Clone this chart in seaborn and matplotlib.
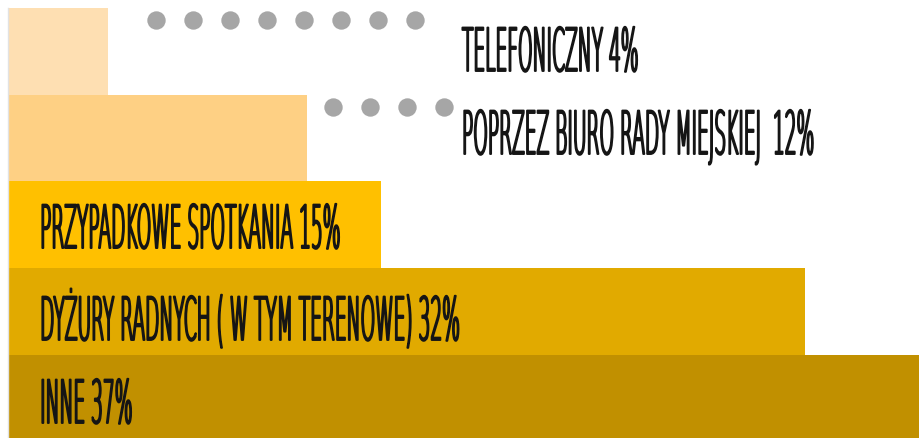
import matplotlib
matplotlib.use("Agg")
import matplotlib.pyplot as plt
import seaborn as sns
import pandas as pd
from matplotlib import patheffects
from matplotlib.transforms import Affine2D

# ---- data ----
categories = ["Telefoniczny", "poprzez biuro Rady miejskiej ", "przypadkowe spotkania",
              "dyżury radnych ( w tym terenowe)", "inne"]
values = [4, 12, 15, 32, 37]
colors = ["#FEDFB2", "#FED084", "#FFC000", "#E1AA00", "#C19000"]
dot_counts = [8, 4, 0, 0, 0]

# ---- layout / style ----
dot_start = [5.93, 13.07, 0, 0, 0]
dot_step = 1.486
label_x = [18.24, 18.24, 1.29, 1.29, 1.29]
label_base = [0.226, 0.183, 0.267, 0.327, 0.284]


class Stretch(patheffects.AbstractPathEffect):
    """Draw text glyphs stretched (tall condensed display look)."""

    def __init__(self, sx=1.0, sy=1.0, lw=0.0):
        super().__init__()
        self.sx, self.sy, self.lw = sx, sy, lw

    def draw_path(self, renderer, gc, tpath, affine, rgbFace=None):
        aff = Affine2D().scale(self.sx, self.sy) + affine
        gc0 = renderer.new_gc()
        gc0.copy_properties(gc)
        if self.lw > 0 and rgbFace is not None:
            gc0.set_linewidth(self.lw)
            gc0.set_foreground(rgbFace)
            gc0.set_joinstyle("round")
        renderer.draw_path(gc0, tpath, aff, rgbFace)
        gc0.restore()


sns.set_style("white")
plt.rcParams["font.family"] = ["DejaVu Sans"]

df = pd.DataFrame({"cat": categories, "val": values})

fig = plt.figure(figsize=(9.19, 4.38), dpi=100)
ax = fig.add_axes([8 / 919, 0, 1 - 8 / 919, 430 / 438])
sns.barplot(data=df, x="val", y="cat", hue="cat", palette=colors, orient="h",
            width=1.0, saturation=1, legend=False, ax=ax, linewidth=0)

ax.set_xlim(0, 36.6)
ax.set_ylim(4.457, -0.5)
ax.set_xlabel("")
ax.set_ylabel("")
ax.set_xticks([])
ax.set_yticks([])
for s in ["top", "right", "bottom"]:
    ax.spines[s].set_visible(False)
ax.spines["left"].set_color("#e2e2e2")
ax.spines["left"].set_linewidth(1.0)

for i, (cat, v) in enumerate(zip(categories, values)):
    n = dot_counts[i]
    if n:
        xs = [dot_start[i] + k * dot_step for k in range(n)]
        ax.scatter(xs, [i - 0.36] * n, s=175, color="#a6a6a6", linewidths=0, zorder=3)
    label = f"{cat} {v}%".upper()
    ax.text(label_x[i], i + label_base[i], label, fontsize=13.4, fontweight=200,
            ha="left", va="baseline", color="#151515", zorder=4,
            path_effects=[Stretch(1.0, 3.2, 1.4)])

fig.savefig("out.png", dpi=100)
